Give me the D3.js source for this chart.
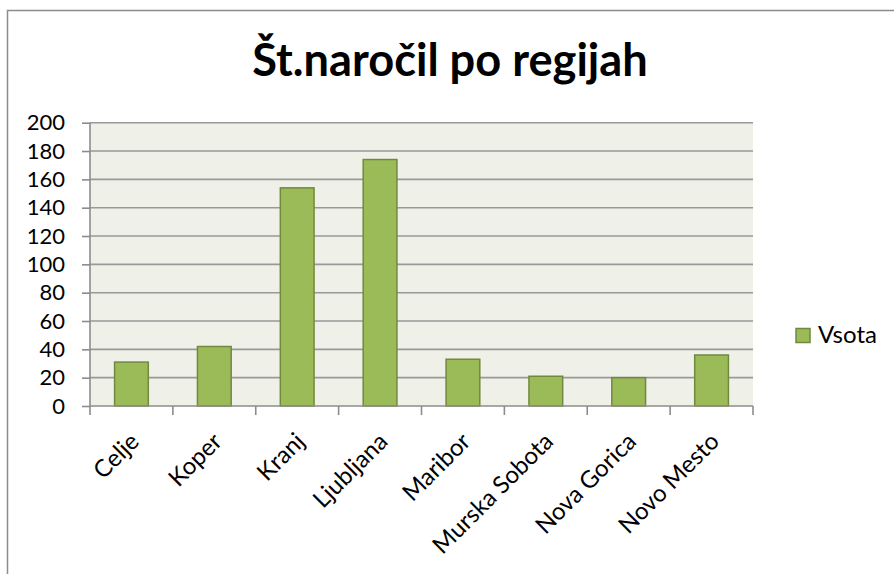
<!DOCTYPE html>
<html>
<head>
<meta charset="utf-8">
<script src="https://cdn.jsdelivr.net/npm/d3@7/dist/d3.min.js"></script>
<style>
  html, body { margin: 0; padding: 0; background: #ffffff; }
  svg { display: block; }
  text { font-family: Lato, "Open Sans", sans-serif; fill: #000; }
</style>
</head>
<body>
<svg id="chart" width="894" height="574"></svg>
<script>
const title = "Št.naročil po regijah";
const categories = ["Celje", "Koper", "Kranj", "Ljubljana", "Maribor", "Murska Sobota", "Nova Gorica", "Novo Mesto"];
const values = [31, 42, 154, 174, 33, 21, 20, 36];
const seriesName = "Vsota";
const yTicks = [0, 20, 40, 60, 80, 100, 120, 140, 160, 180, 200];

const W = 894, H = 574;
const plot = { left: 90, right: 753, top: 122.7, bottom: 406 };
const svg = d3.select("#chart");

// chart border
svg.append("rect")
  .attr("x", 7.5).attr("y", 10.5)
  .attr("width", 900).attr("height", 600)
  .attr("fill", "#fff").attr("stroke", "#8c8c8c").attr("stroke-width", 1.5);

const pad = 0.593;
const x = d3.scaleBand().domain(categories)
  .range([plot.left, plot.right]).paddingInner(pad).paddingOuter(pad / 2);
const y = d3.scaleLinear().domain([0, 200]).range([plot.bottom, plot.top]);

// plot background
svg.append("rect")
  .attr("x", plot.left).attr("y", plot.top)
  .attr("width", plot.right - plot.left).attr("height", plot.bottom - plot.top)
  .attr("fill", "#eff1e8");

// gridlines
svg.append("g").selectAll("line").data(yTicks.filter(d => d > 0)).join("line")
  .attr("x1", plot.left).attr("x2", plot.right)
  .attr("y1", d => y(d)).attr("y2", d => y(d))
  .attr("stroke", "#999").attr("stroke-width", 1.6);

// bars
svg.append("g").selectAll("rect").data(values).join("rect")
  .attr("x", (d, i) => x(categories[i]))
  .attr("y", d => y(d))
  .attr("width", x.bandwidth())
  .attr("height", d => y(0) - y(d))
  .attr("fill", "#9bbb59")
  .attr("stroke", "#71893f").attr("stroke-width", 1.5);

// y axis
const yAxis = d3.axisLeft(y).tickValues(yTicks).tickSize(8).tickPadding(17);
const gy = svg.append("g").attr("transform", `translate(${plot.left},0)`).call(yAxis);
gy.select(".domain").remove();
gy.append("line").attr("x1", 0).attr("x2", 0).attr("y1", plot.top).attr("y2", plot.bottom)
  .attr("stroke", "#8c8c8c").attr("stroke-width", 1.6);
gy.selectAll(".tick line").attr("stroke", "#8c8c8c").attr("stroke-width", 1.6);
gy.selectAll(".tick text").style("font-family", "Lato").style("font-size", "22px").attr("fill", "#000");

// x axis (ticks at category boundaries)
const step = x.step();
const bounds = categories.map(c => x(c) - step * pad / 2).concat([plot.right]);
const gx = svg.append("g");
gx.append("line").attr("x1", plot.left).attr("x2", plot.right)
  .attr("y1", plot.bottom).attr("y2", plot.bottom)
  .attr("stroke", "#8c8c8c").attr("stroke-width", 1.6);
gx.selectAll("line.tk").data(bounds).join("line").attr("class", "tk")
  .attr("x1", d => d).attr("x2", d => d)
  .attr("y1", plot.bottom).attr("y2", plot.bottom + 9)
  .attr("stroke", "#8c8c8c").attr("stroke-width", 1.6);
gx.selectAll("text").data(categories).join("text")
  .attr("transform", d => `translate(${x(d) + x.bandwidth() / 2 + 9},443) rotate(-45)`)
  .attr("text-anchor", "end")
  .style("font-size", "24px")
  .text(d => d);

// title
const t = svg.append("text")
  .attr("x", 450).attr("y", 76)
  .attr("text-anchor", "middle")
  .style("font-weight", "bold")
  .style("font-size", "40px")
  .text(title);
const tw = t.node().getComputedTextLength();
t.style("font-size", (40 * 396 / tw).toFixed(1) + "px");

// legend
const lg = svg.append("g");
lg.append("rect").attr("x", 796).attr("y", 328.5).attr("width", 14).attr("height", 14)
  .attr("fill", "#9bbb59").attr("stroke", "#71893f").attr("stroke-width", 1.5);
lg.append("text").attr("x", 818).attr("y", 343).style("font-size", "24px").text(seriesName);
</script>
</body>
</html>
